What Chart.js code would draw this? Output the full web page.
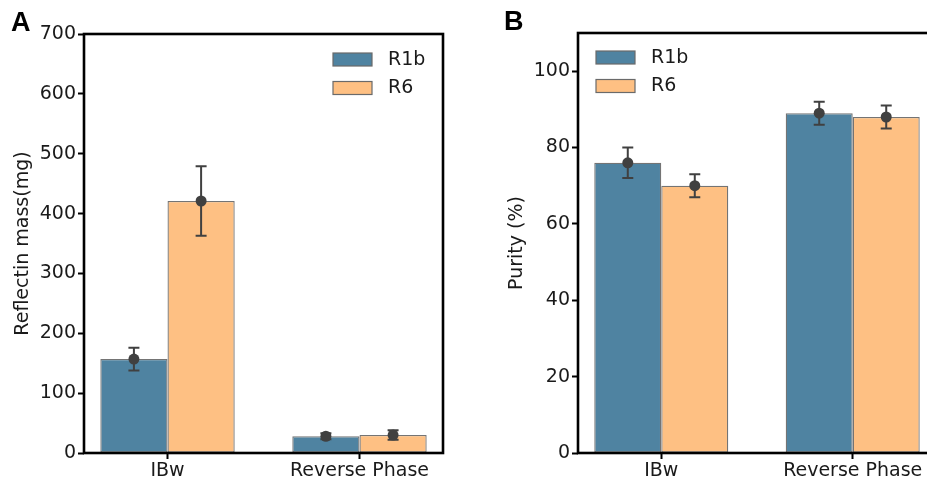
<!DOCTYPE html>
<html>
<head>
<meta charset="utf-8">
<script src="https://cdn.jsdelivr.net/npm/chart.js@4/dist/chart.umd.min.js"></script>
<style>
  html, body { margin:0; padding:0; background:#fff; width:927px; height:479px; overflow:hidden; }
  #wrap { position:relative; width:927px; height:479px; overflow:hidden; }
  canvas { position:absolute; top:0; }
  #cA { left:0; }
  #cB { left:460px; }
  .lbl { position:absolute; font-family:"Liberation Sans", Arial, sans-serif; font-weight:bold; font-size:27px; line-height:27px; color:#000; }
</style>
</head>
<body>
<div id="wrap">
  <canvas id="cA" width="460" height="479"></canvas>
  <canvas id="cB" width="520" height="479"></canvas>
  <div class="lbl" style="left:11px;top:9px;">A</div>
  <div class="lbl" style="left:504px;top:8px;">B</div>
</div>
<script>
// ---- data ----
const categories = ['IBw', 'Reverse Phase'];
const seriesNames = ['R1b', 'R6'];
const massR1b = [157, 28];
const massR1bErr = [19, 5];
const massR6 = [421, 30];
const massR6Err = [58, 8];
const purityR1b = [76, 89];
const purityR1bErr = [4, 3];
const purityR6 = [70, 88];
const purityR6Err = [3, 3];
const massTicks = [0, 100, 200, 300, 400, 500, 600, 700];
const purityTicks = [0, 20, 40, 60, 80, 100];

const colors = ['#4f83a1', '#fec083'];
const FONT = '"DejaVu Sans", Verdana, sans-serif';

const errorPlugin = {
  id: 'errbars',
  afterDatasetsDraw(chart, args, opts) {
    const ctx = chart.ctx;
    const ys = chart.scales.y;
    ctx.save();
    chart.data.datasets.forEach((ds, di) => {
      const meta = chart.getDatasetMeta(di);
      meta.data.forEach((el, j) => {
        const v = ds.data[j].y, e = ds.errors[j];
        const x = el.x;
        const yt = ys.getPixelForValue(v + e), yb = ys.getPixelForValue(v - e), yc = ys.getPixelForValue(v);
        ctx.strokeStyle = '#404040';
        ctx.lineWidth = 2;
        ctx.beginPath();
        ctx.moveTo(x, yt); ctx.lineTo(x, yb);
        ctx.moveTo(x - 5.5, yt); ctx.lineTo(x + 5.5, yt);
        ctx.moveTo(x - 5.5, yb); ctx.lineTo(x + 5.5, yb);
        ctx.stroke();
        ctx.fillStyle = '#404040';
        ctx.beginPath();
        ctx.arc(x, yc, 5.5, 0, Math.PI * 2);
        ctx.fill();
      });
    });
    ctx.restore();
  }
};

const framePlugin = {
  id: 'frame',
  afterDraw(chart) {
    const a = chart.chartArea, ctx = chart.ctx;
    ctx.save();
    ctx.strokeStyle = '#000';
    ctx.lineWidth = 2.6;
    ctx.strokeRect(a.left, a.top, a.right - a.left, a.bottom - a.top);
    ctx.restore();
  }
};

const legendPlugin = {
  id: 'boxlegend',
  afterDraw(chart, args, opts) {
    const a = chart.chartArea, ctx = chart.ctx;
    const x0 = opts.fromRight ? a.right - opts.dx : a.left + opts.dx;
    const y0 = a.top + opts.dy;
    ctx.save();
    chart.data.datasets.forEach((ds, i) => {
      const y = y0 + i * 28.5;
      ctx.fillStyle = ds.backgroundColor;
      ctx.fillRect(x0, y, 39, 13);
      ctx.strokeStyle = '#6a6a6a';
      ctx.lineWidth = 1.2;
      ctx.strokeRect(x0, y, 39, 13);
      ctx.fillStyle = '#1a1a1a';
      ctx.font = '19px ' + FONT;
      ctx.textBaseline = 'middle';
      ctx.textAlign = 'left';
      ctx.fillText(ds.label, x0 + 55, y + 7);
    });
    ctx.restore();
  }
};

function makeChart(id, s1, e1, s2, e2, yTicks, yMax, yTitle, pad, titlePad, legendOpts) {
  const datasets = [
    { label: seriesNames[0], data: s1.map((v, i) => ({ x: i, y: v })), errors: e1, backgroundColor: colors[0] },
    { label: seriesNames[1], data: s2.map((v, i) => ({ x: i, y: v })), errors: e2, backgroundColor: colors[1] }
  ].map(d => Object.assign(d, { borderColor: 'rgba(70,70,70,0.75)', borderWidth: 1.3, borderSkipped: false,
      categoryPercentage: 0.7, barPercentage: 1.0 }));
  return new Chart(document.getElementById(id), {
    type: 'bar',
    data: { datasets },
    options: {
      responsive: false,
      animation: false,
      devicePixelRatio: 1,
      layout: { padding: pad },
      plugins: { legend: { display: false }, tooltip: { enabled: false }, boxlegend: legendOpts },
      scales: {
        x: {
          type: 'linear', min: -0.435, max: 1.435, offset: false,
          afterBuildTicks: s => { s.ticks = categories.map((c, i) => ({ value: i })); },
          afterFit: s => { s.height = 26; },
          ticks: { callback: v => categories[v], color: '#1a1a1a', font: { family: FONT, size: 19 }, padding: 1, maxRotation: 0, autoSkip: false },
          grid: { display: true, offset: false, drawOnChartArea: false, drawTicks: true, tickLength: 6, tickWidth: 2, tickColor: '#000' },
          border: { display: false }
        },
        y: {
          min: 0, max: yMax,
          afterBuildTicks: s => { s.ticks = yTicks.map(v => ({ value: v })); },
          afterFit: s => { s.width = pad.yw; },
          ticks: { color: '#1a1a1a', font: { family: FONT, size: 19 }, padding: 2 },
          grid: { display: true, drawOnChartArea: false, drawTicks: true, tickLength: 6, tickWidth: 2, tickColor: '#000' },
          border: { display: false },
          title: { display: true, text: yTitle, color: '#1a1a1a', font: { family: FONT, size: 19 }, padding: { top: titlePad, bottom: 0 } }
        }
      }
    },
    plugins: [errorPlugin, framePlugin, legendPlugin]
  });
}

makeChart('cA', massR1b, massR1bErr, massR6, massR6Err, massTicks, 700, 'Reflectin mass(mg)',
  { left: 0, top: 34, right: 17, bottom: 0, yw: 84 }, 12, { fromRight: true, dx: 110, dy: 19 });
makeChart('cB', purityR1b, purityR1bErr, purityR6, purityR6Err, purityTicks, 110, 'Purity (%)',
  { left: 0, top: 33, right: 44, bottom: 0, yw: 118 }, 46, { fromRight: false, dx: 18, dy: 18 });
</script>
</body>
</html>
